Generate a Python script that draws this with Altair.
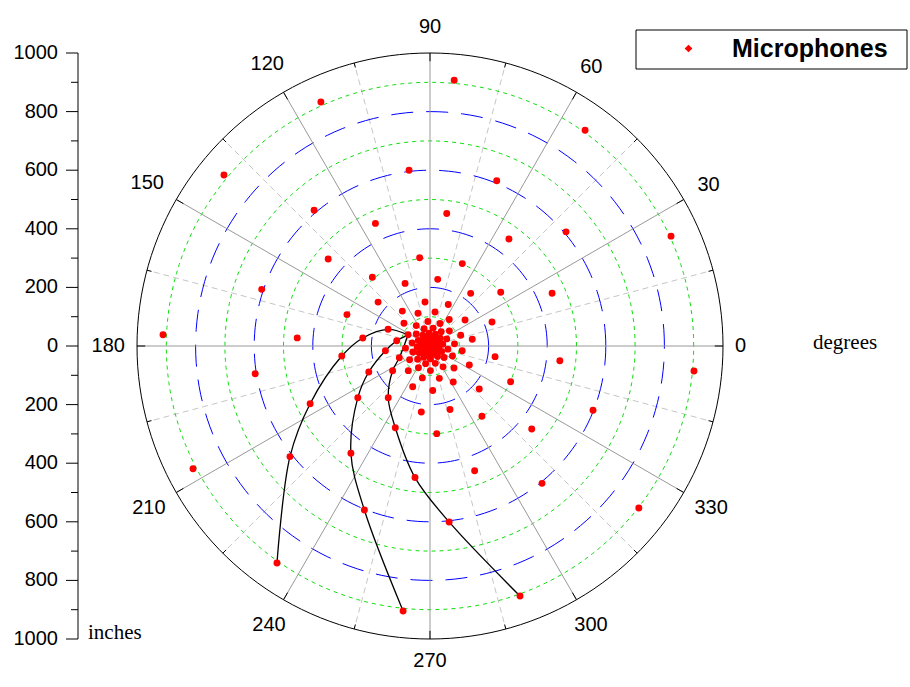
import altair as alt
import numpy as np
import pandas as pd

# ---------------- data ----------------
# microphone positions, ring by ring: angle in degrees, radius in inches
ring1_angle = [84.8, 54.3, 24.5, 354.6, 322.2, 289.8, 264.2, 234.8, 207.4, 177.6, 140.3, 114.1]
ring1_radius = [911, 907, 904, 905, 902, 907, 909, 906, 911, 912, 914, 912]
ring2_angle = [68.0, 40.0, 338.5, 309.2, 276.2, 248.2, 218.3, 189.0, 161.4, 130.5, 96.8]
ring2_radius = [608, 606, 598, 605, 604, 603, 609, 604, 606, 609, 604]
ring3_angle = [82.8, 53.6, 23.4, 353.5, 320.8, 289.7, 263.5, 233.6, 205.7, 176.5, 139.5, 114.0]
ring3_radius = [456, 454, 454, 446, 448, 452, 452, 455, 454, 454, 457, 458]
ring4_angle = [68.6, 37.2, 336.1, 306.5, 274.4, 247.0, 215.6, 186.5, 159.3, 130.0, 96.7]
ring4_radius = [302, 303, 301, 298, 300, 303, 303, 303, 303, 306, 303]
ring5_angle = [83.4, 52.3, 21.2, 350.7, 318.9, 287.5, 262.5, 231.1, 203.0, 173.2, 139.8, 111.7]
ring5_radius = [229, 227, 227, 225, 223, 227, 227, 227, 227, 231, 232, 230]
ring6_angle = [66.3, 36.6, 9.0, 334.2, 302.9, 273.5, 247.0, 213.5, 186.0, 158.3, 128.4, 96.5]
ring6_radius = [155, 149, 146, 149, 146, 152, 151, 153, 153, 154, 152, 151]
ring7_angle = [81.6, 54.1, 19.2, 351.7, 317.5, 286.1, 256.5, 228.7, 200.9, 171.0, 138.9, 110.2]
ring7_radius = [117, 112, 111, 111, 111, 115, 112, 112, 112, 115, 118, 119]
ring8_angle = [5, 38, 66, 95, 124, 153, 185, 214, 242, 271, 302, 336]
ring8_radius = [84, 84, 84, 84, 84, 84, 84, 84, 84, 84, 84, 84]
ring9_angle = [350, 23, 52, 80, 109, 139, 170, 199, 227, 256, 287, 321]
ring9_radius = [62, 62, 62, 62, 62, 62, 62, 62, 62, 62, 62, 62]
ring10_angle = [335, 8, 37, 65, 94, 124, 155, 184, 212, 241, 272, 306]
ring10_radius = [44, 44, 44, 44, 44, 44, 44, 44, 44, 44, 44, 44]
ring11_angle = [320, 353, 22, 50, 79, 109, 140, 169, 197, 226, 257, 291]
ring11_radius = [30, 30, 30, 30, 30, 30, 30, 30, 30, 30, 30, 30]
ring12_angle = [305, 338, 8, 37, 66, 95, 125, 155, 183, 212, 242, 273, 0]
ring12_radius = [16, 16, 16, 16, 16, 16, 16, 16, 16, 16, 16, 16, 0]

# the three connected spiral arms (black lines)
arm_a_angle = [234.8, 218.3, 205.7, 186.5, 173.2, 158.3, 153]
arm_a_radius = [906, 609, 454, 303, 231, 154, 84]
arm_b_angle = [264.2, 248.2, 233.6, 215.6, 203.0, 186.0, 171.0, 153]
arm_b_radius = [909, 603, 455, 303, 227, 153, 115, 84]
arm_c_angle = [289.8, 276.2, 263.5, 247.0, 231.1, 213.5, 200.9, 153]
arm_c_radius = [907, 604, 452, 303, 227, 153, 112, 84]

# grid / axis definitions
green_rings = [100, 300, 500, 700, 900]
blue_rings = [200, 400, 600, 800]
outer_ring = [1000]
major_spokes = [0, 30, 60, 90, 120, 150, 180, 210, 240, 270, 300, 330]
minor_spokes = [15, 45, 75, 105, 135, 165, 195, 225, 255, 285, 315, 345]
angle_labels = major_spokes
radius_major_ticks = [-1000, -800, -600, -400, -200, 0, 200, 400, 600, 800, 1000]
radius_minor_ticks = [-900, -700, -500, -300, -100, 100, 300, 500, 700, 900]
series_name = "Microphones"

# ---------------- build tables ----------------
mic_angle = (ring1_angle + ring2_angle + ring3_angle + ring4_angle + ring5_angle + ring6_angle
             + ring7_angle + ring8_angle + ring9_angle + ring10_angle + ring11_angle + ring12_angle)
mic_radius = (ring1_radius + ring2_radius + ring3_radius + ring4_radius + ring5_radius + ring6_radius
              + ring7_radius + ring8_radius + ring9_radius + ring10_radius + ring11_radius + ring12_radius)
mics = pd.DataFrame({"angle": mic_angle, "radius": mic_radius, "series": series_name})

arms = pd.concat([
    pd.DataFrame({"arm": name, "step": list(range(len(a))), "angle": a, "radius": r})
    for name, a, r in [("a", arm_a_angle, arm_a_radius),
                       ("b", arm_b_angle, arm_b_radius),
                       ("c", arm_c_angle, arm_c_radius)]
], ignore_index=True)

ring_steps = np.arange(0, 361, 2)


def ring_table(radii):
    return pd.DataFrame([(r, a) for r in radii for a in ring_steps], columns=["radius", "angle"])


W = 586
R = 1000
PX = W / (2 * R)
AXIS_X = -59  # left radius axis sits 59 px left of the plot area

xs = alt.Scale(domain=[-R, R], nice=False, zero=False)
ys = alt.Scale(domain=[-R, R], nice=False, zero=False)


def X(f="px"):
    return alt.X(f"{f}:Q", scale=xs, axis=None)


def Y(f="py"):
    return alt.Y(f"{f}:Q", scale=ys, axis=None)


def polar(ch):
    return ch.transform_calculate(
        px="datum.radius * cos(datum.angle * PI / 180)",
        py="datum.radius * sin(datum.angle * PI / 180)",
    )


def spokes(angles, r0, r1_expr):
    return alt.Chart(pd.DataFrame({"angle": angles})).transform_calculate(
        rin=r0,
        rout=r1_expr,
    ).transform_calculate(
        x0="datum.rin * cos(datum.angle * PI / 180)",
        y0="datum.rin * sin(datum.angle * PI / 180)",
        x1="datum.rout * cos(datum.angle * PI / 180)",
        y1="datum.rout * sin(datum.angle * PI / 180)",
    )


minor_spoke_layer = spokes(minor_spokes, "0", "1000").mark_rule(
    color="#c6c6c6", strokeDash=[6, 4], strokeWidth=1
).encode(x=X("x0"), y=Y("y0"), x2="x1:Q", y2="y1:Q")

major_spoke_layer = spokes(major_spokes, "0", "1000").mark_rule(
    color="#999999", strokeWidth=1
).encode(x=X("x0"), y=Y("y0"), x2="x1:Q", y2="y1:Q")

green_layer = polar(alt.Chart(ring_table(green_rings))).mark_line(
    color="#11dd11", strokeDash=[4, 4], strokeWidth=1
).encode(x=X(), y=Y(), detail="radius:N", order="angle:Q")

blue_layer = polar(alt.Chart(ring_table(blue_rings))).mark_line(
    color="#0000ff", strokeDash=[22, 13], strokeWidth=1
).encode(x=X(), y=Y(), detail="radius:N", order="angle:Q")

outer_layer = polar(alt.Chart(ring_table(outer_ring))).mark_line(
    color="black", strokeWidth=1
).encode(x=X(), y=Y(), detail="radius:N", order="angle:Q")

edge_ticks = spokes(sorted(major_spokes + minor_spokes), "datum.angle % 30 == 0 ? 972 : 984", "1000").mark_rule(
    color="black", strokeWidth=1
).encode(x=X("x0"), y=Y("y0"), x2="x1:Q", y2="y1:Q")

arm_layer = polar(alt.Chart(arms)).mark_line(
    color="black", strokeWidth=1.3, interpolate="catmull-rom"
).encode(x=X(), y=Y(), detail="arm:N", order="step:Q")

point_layer = polar(alt.Chart(mics)).mark_circle(size=48, opacity=1).encode(
    x=X(),
    y=Y(),
    color=alt.Color(
        "series:N",
        scale=alt.Scale(domain=[series_name], range=["#ff0000"]),
        legend=alt.Legend(
            title=None, orient="none", legendX=527, legendY=-17,
            symbolType="diamond", symbolSize=60, symbolStrokeWidth=0, symbolOffset=12,
            labelFont="Liberation Sans", labelFontSize=25, labelFontWeight="bold",
            labelColor="black", labelOffset=31, labelLimit=400, padding=0,
        ),
    ),
)

# ---- radius axis on the left (line, ticks, labels), driven by the shared y scale ----
axis_line = alt.Chart(pd.DataFrame({"lo": [min(radius_major_ticks)], "hi": [max(radius_major_ticks)]})).mark_rule(
    color="black", strokeWidth=1
).encode(y=Y("lo"), y2="hi:Q", x=alt.value(AXIS_X))

major_tick_layer = alt.Chart(pd.DataFrame({"v": radius_major_ticks})).mark_rule(
    color="black", strokeWidth=1
).encode(y=Y("v"), x=alt.value(AXIS_X), x2=alt.value(AXIS_X - 12))

minor_tick_layer = alt.Chart(pd.DataFrame({"v": radius_minor_ticks})).mark_rule(
    color="black", strokeWidth=1
).encode(y=Y("v"), x=alt.value(AXIS_X), x2=alt.value(AXIS_X - 7))

axis_label_layer = alt.Chart(pd.DataFrame({"v": radius_major_ticks})).transform_calculate(
    lab="toString(abs(datum.v))"
).mark_text(
    font="Liberation Sans", fontSize=20, color="black", align="right", baseline="middle"
).encode(y=Y("v"), x=alt.value(AXIS_X - 20), text="lab:N")

label_layer = alt.Chart(pd.DataFrame({"angle": angle_labels})).transform_calculate(
    label="toString(datum.angle)",
).transform_calculate(
    rr=f"(305 + length(datum.label) * 5.6 * abs(cos(datum.angle * PI / 180)) "
       f"+ (sin(datum.angle * PI / 180) > 0 ? 14 : 10) * abs(sin(datum.angle * PI / 180))) / {PX}",
).transform_calculate(
    px="datum.rr * cos(datum.angle * PI / 180)",
    py="datum.rr * sin(datum.angle * PI / 180)",
).mark_text(font="Liberation Sans", fontSize=20, color="black").encode(
    x=X(), y=Y(), text="label:N"
)

degrees_layer = alt.Chart(pd.DataFrame({"t": ["degrees"]})).mark_text(
    font="Liberation Serif", fontSize=21, color="black", align="left", baseline="alphabetic"
).encode(x=alt.value(676), y=alt.value(296), text="t:N")

inches_layer = alt.Chart(pd.DataFrame({"t": ["inches"]})).mark_text(
    font="Liberation Serif", fontSize=21, color="black", align="left", baseline="alphabetic"
).encode(x=alt.value(-49), y=alt.value(586), text="t:N")

legend_frame = alt.Chart(pd.DataFrame({"t": [series_name]})).mark_rect(
    fill="white", stroke="black", strokeWidth=1
).encode(x=alt.value(499), x2=alt.value(770), y=alt.value(-23), y2=alt.value(16))

chart = alt.layer(
    minor_spoke_layer,
    green_layer,
    blue_layer,
    major_spoke_layer,
    outer_layer,
    edge_ticks,
    arm_layer,
    legend_frame,
    point_layer,
    label_layer,
    degrees_layer,
    inches_layer,
    axis_line,
    major_tick_layer,
    minor_tick_layer,
    axis_label_layer,
).properties(
    width=W,
    height=W,
    padding={"left": 137, "top": 53, "right": 187, "bottom": 48},
    autosize=alt.AutoSizeParams(type="none"),
    background="white",
).configure_view(strokeOpacity=0)

chart.save("out.html", embed_options={"renderer": "svg", "actions": False})
